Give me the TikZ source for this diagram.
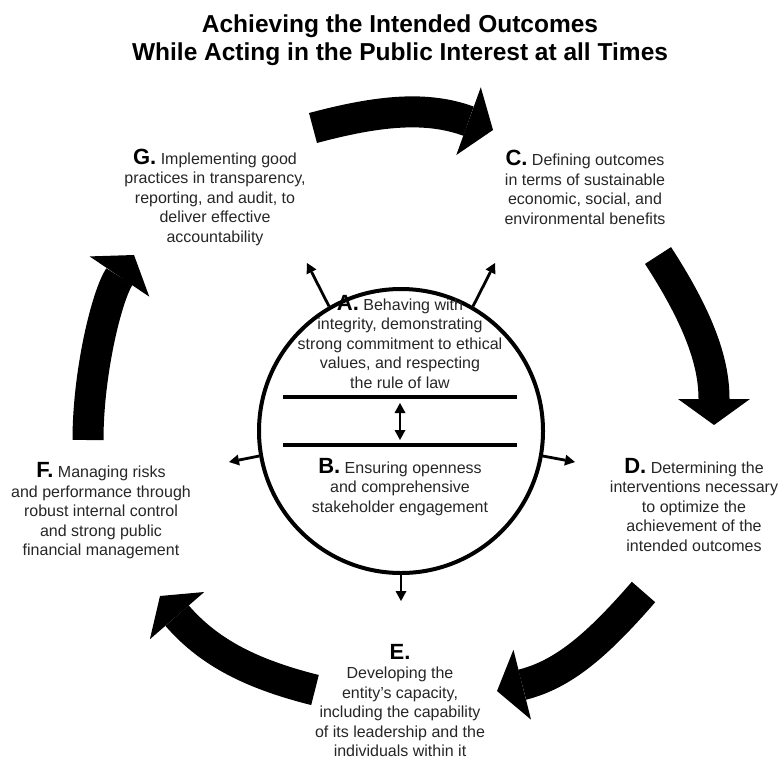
\documentclass[tikz,border=0pt]{standalone}
\usepackage{fontspec}
\setmainfont{Liberation Sans}
\usetikzlibrary{arrows.meta}
\newcommand\Lett[1]{{\fontsize{22}{19.5}\selectfont\bfseries\color{black}#1.}}
\begin{document}
\begin{tikzpicture}[x=1pt,y=-1pt,
  txt/.style={align=center, text=black!85, font=\fontsize{16}{19.5}\selectfont, inner sep=0pt},
  bigarrow/.style={line width=31pt, -{Triangle[length=26pt,width=72pt,line width=0pt]}},
  smallarrow/.style={line width=2.8pt, -{Triangle[length=10pt,width=11pt,line width=0pt]}},
  dblarrow/.style={line width=2.8pt, {Triangle[length=10pt,width=11pt,line width=0pt]}-{Triangle[length=10pt,width=11pt,line width=0pt]}},
  bar/.style={line width=4pt}
  ]
\useasboundingbox (0,0) rectangle (783,760);

% title
\node[align=center, font=\fontsize{24.5}{28}\selectfont\bfseries, inner sep=0pt] (title) at (400,40.5)
  {Achieving the Intended Outcomes\\While Acting in the Public Interest at all Times};

% centre circle
\node[draw, circle, line width=4pt, minimum size=284pt, inner sep=0pt] (circ) at (401,431) {};
\draw[bar] (283,397) -- (517,397);
\draw[bar] (283,445) -- (517,445);
\coordinate (dtop) at (400,403);
\coordinate (dbot) at (400,440);
\draw[dblarrow] (dtop) -- (dbot);

\node[txt] (A) at (400,342) {\Lett{A} Behaving with\\integrity, demonstrating\\strong commitment to ethical\\values, and respecting\\the rule of law};
\node[txt] (B) at (400,487) {\Lett{B} Ensuring openness\\and comprehensive\\stakeholder engagement};

% outer texts
\node[txt] (G) at (215,197) {\Lett{G} Implementing good\\practices in transparency,\\reporting, and audit, to\\deliver effective\\accountability};
\node[txt] (C) at (585,187.5) {\Lett{C} Defining outcomes\\in terms of sustainable\\economic, social, and\\environmental benefits};
\node[txt] (D) at (694,505) {\Lett{D} Determining the\\interventions necessary\\to optimize the\\achievement of the\\intended outcomes};
\node[txt] (E) at (400,700.5) {\Lett{E}\\Developing the\\entity’s capacity,\\including the capability\\of its leadership and the\\individuals within it};
\node[txt] (F) at (101,511) {\Lett{F} Managing risks\\and performance through\\robust internal control\\and strong public\\financial management};

% small arrows from the circle
\coordinate (tUL) at (307,263);
\coordinate (tUR) at (495,263);
\coordinate (tL) at (229,462);
\coordinate (tR) at (575,462);
\coordinate (tB) at (401,601);
\draw[smallarrow] (circ.120) -- (tUL);
\draw[smallarrow] (circ.60) -- (tUR);
\draw[smallarrow] (circ.190) -- (tL);
\draw[smallarrow] (circ.-10) -- (tR);
\draw[smallarrow] (circ.south) -- (tB);

% big curved arrows
\coordinate (s1) at (313,128);   \coordinate (e1) at (493,130);
\coordinate (s2) at (658,255.5); \coordinate (e2) at (714,425);
\coordinate (s3) at (643.5,592); \coordinate (e3) at (497,691);
\coordinate (s4) at (315,690);   \coordinate (e4) at (160,596);
\coordinate (s5) at (88,440);    \coordinate (e5) at (134,255);
\draw[bigarrow] (s1) .. controls (380.6,109.9) and (427.2,106.2) .. (e1);
\draw[bigarrow] (s2) .. controls (701.6,322.6) and (714,365) .. (e2);
\draw[bigarrow] (s3) .. controls (598.2,644.1) and (564,674.2) .. (e3);
\draw[bigarrow] (s4) .. controls (246.1,672.8) and (206.6,649.6) .. (e4);
\draw[bigarrow] (s5) .. controls (88,372) and (107,295) .. (e5);
\end{tikzpicture}
\end{document}
